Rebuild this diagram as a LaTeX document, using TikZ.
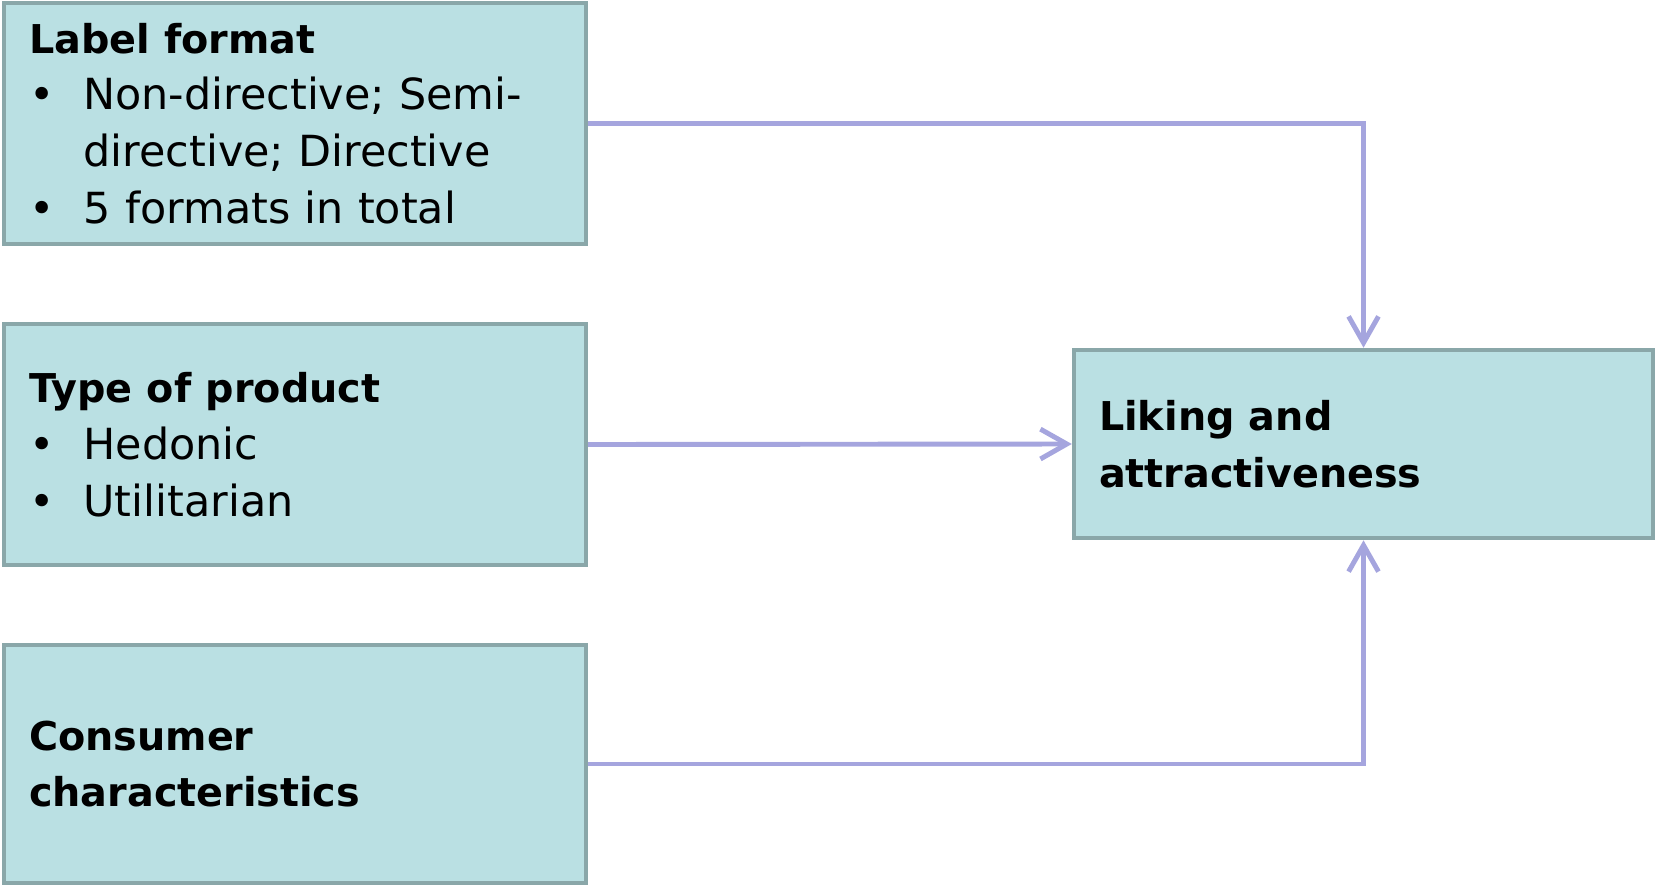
\documentclass[tikz,border=0pt]{standalone}
\usepackage{fontspec}
\setmainfont{DejaVu Sans}
\usepackage{tikz}
\usetikzlibrary{positioning,arrows.meta}
\definecolor{boxfill}{HTML}{BAE0E3}
\definecolor{boxline}{HTML}{8AA7A9}
\definecolor{arrowcol}{HTML}{A5A5DE}

\newcommand{\itm}{\makebox[31pt][l]{•}}
\newcommand{\ind}{\hspace*{31pt}}
\newcommand{\hd}[1]{{\fontsize{22.6}{32.3}\selectfont\bfseries #1}}

\begin{document}
\begin{tikzpicture}[x=0.02cm,y=-0.02cm,
	box/.style={shape=rectangle,draw=boxline,fill=boxfill,line width=2.6pt,
		minimum width=11.64cm,minimum height=4.82cm,text width=10.64cm,
		inner xsep=0.5cm,align=left,font=\fontsize{24.4}{32.3}\selectfont},
	conn/.style={draw=arrowcol,line width=2.8pt,-{Straight Barb[length=15pt,width=17pt]}}]
	
	\useasboundingbox (0,0) rectangle (1655,886);
	
	\node[box] (0) at (295,123.5) {\hd{Label format}\\\itm Non-directive; Semi-\\\ind directive; Directive\\\itm 5 formats in total};
	\node[box] (1) at (295,444.5) {\hd{Type of product}\\\itm Hedonic\\\itm Utilitarian};
	\node[box,minimum height=4.76cm] (2) at (295,764) {\hd{Consumer}\\\hd{characteristics}};
	\node[box,minimum width=11.58cm,minimum height=3.76cm,text width=10.58cm] (3) at (1363.5,444) {\hd{Liking and}\\\hd{attractiveness}};
	
	
	\draw[conn] (0.east) -| (3.north);
	\draw[conn] (1.east) -- (3.west);
	\draw[conn] (2.east) -| (3.south);
	
\end{tikzpicture}
\end{document}
